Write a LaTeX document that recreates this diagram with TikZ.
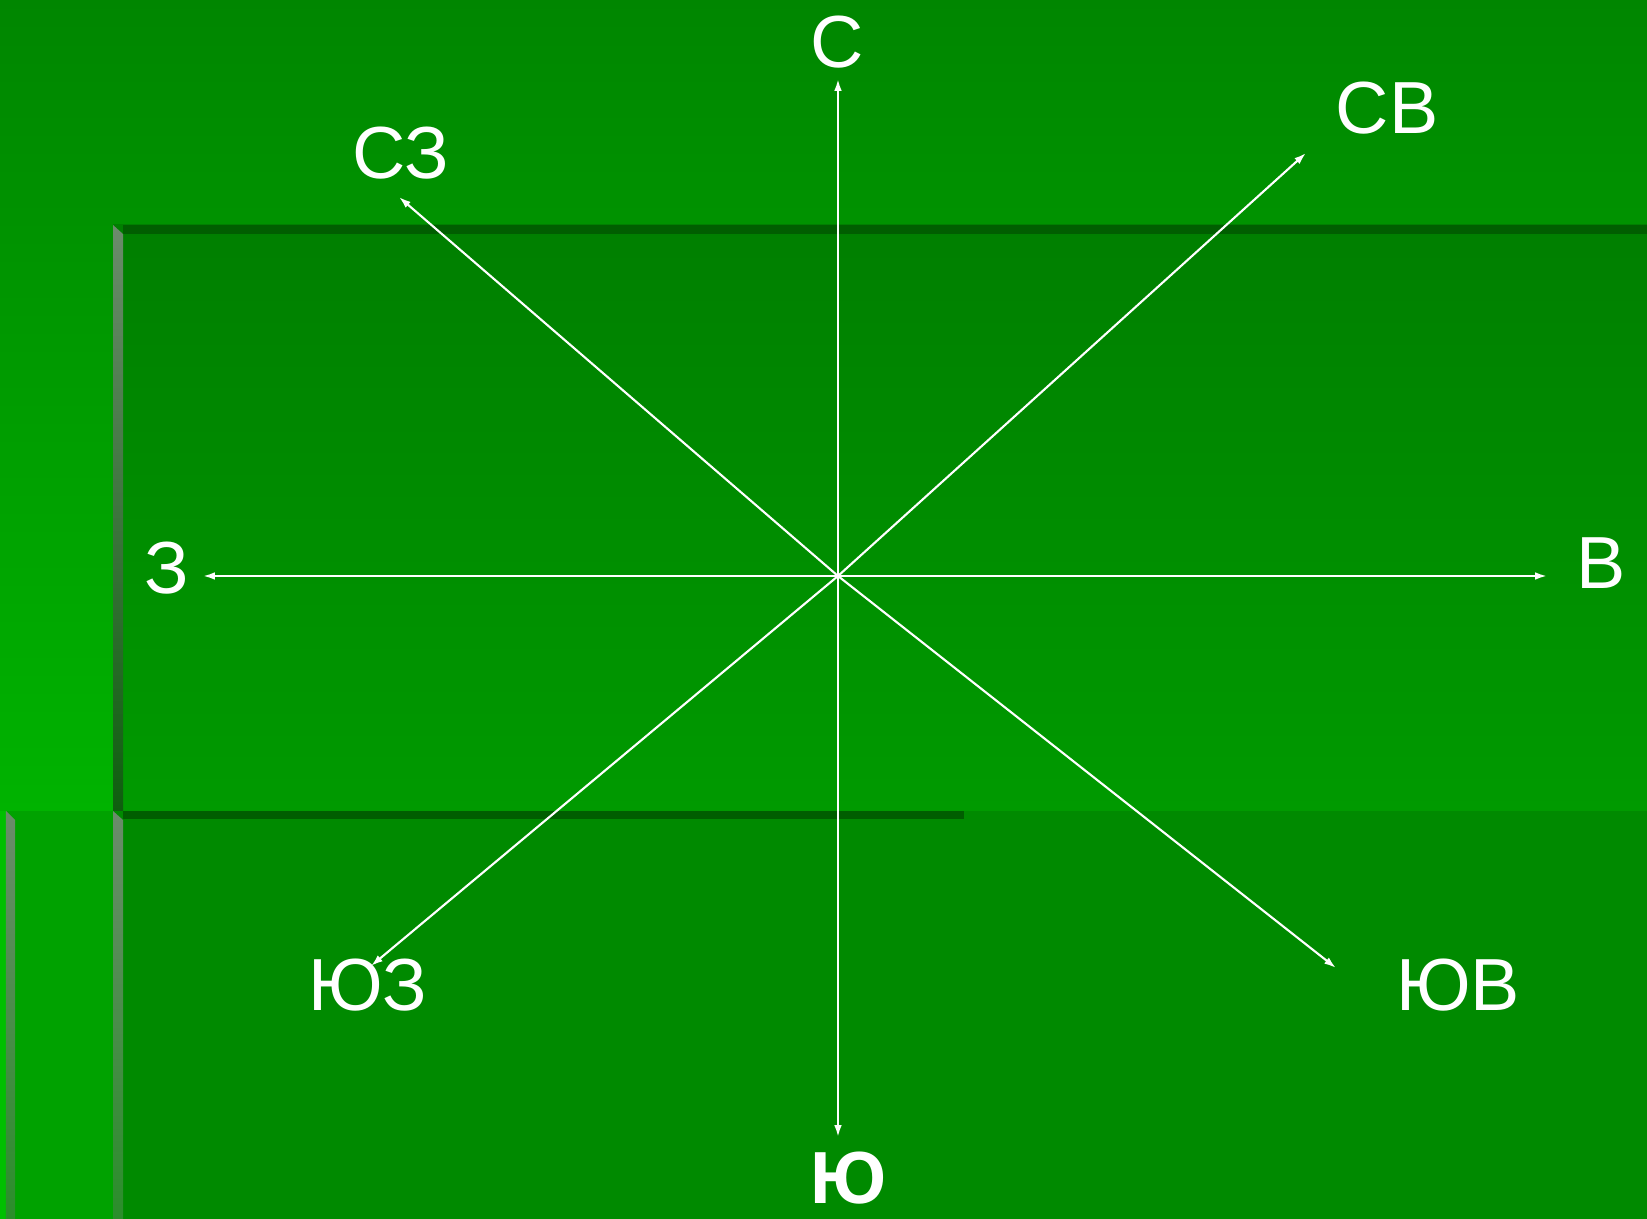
\documentclass[tikz,border=0pt]{standalone}
\usepackage{fontspec}
\setmainfont{Liberation Sans}
\usepackage{xcolor}
\usepackage{tikz}
\usetikzlibrary{arrows.meta,positioning}
\definecolor{bgtop}{HTML}{008600}
\definecolor{bgbottom}{HTML}{00B300}
\definecolor{paneltop}{HTML}{007F00}
\definecolor{panelbottom}{HTML}{009A00}
\definecolor{lowpanel}{HTML}{008A00}
\definecolor{lowleft}{HTML}{00A200}
\definecolor{leftedge}{HTML}{00C000}
\definecolor{edgedark}{HTML}{005E00}
\definecolor{bevelgray}{HTML}{6B8B6B}
\definecolor{beveldark}{HTML}{0E5E0E}
\definecolor{bevelgreen}{HTML}{2A8E2A}

\begin{document}
\begin{tikzpicture}[
  x=0.01cm, y=-0.01cm,
  dir/.style={text=white, inner sep=0pt, font=\fontsize{21}{24}\selectfont},
  arr/.style={-{Latex[length=3.4pt, width=2.2pt]}, line width=0.6pt, draw=white}
]
\useasboundingbox (0,0) rectangle (1647,1219);
% background panels
\shade[top color=bgtop, bottom color=bgbottom] (0,0) rectangle (1647,811);
\fill[lowleft] (0,811) rectangle (113,1219);
\fill[leftedge] (0,811) rectangle (6,1219);
\shade[top color=bevelgray, bottom color=bevelgreen] (6,811) -- (15,820) -- (15,1219) -- (6,1219) -- cycle;
\shade[top color=paneltop, bottom color=panelbottom] (113,225) rectangle (1647,811);
\fill[edgedark] (123,225) rectangle (1647,234);
\shade[top color=bevelgray, bottom color=beveldark] (113,225) -- (123,234) -- (123,811) -- (113,811) -- cycle;
\fill[lowpanel] (113,811) rectangle (1647,1219);
\fill[edgedark] (123,811) rectangle (964,819);
\shade[top color=bevelgray, bottom color=bevelgreen] (113,811) -- (123,820) -- (123,1219) -- (113,1219) -- cycle;

% compass
\coordinate (o) at (838,576);
\node[dir] (n) at (837,42) {С};
\node[dir] (ne) at (1387,108) {СВ};
\node[dir] (nw) at (401,153) {СЗ};
\node[dir] (w) at (167,568) {З};
\node[dir] (e) at (1601,563) {В};
\node[dir] (sw) at (368,985) {ЮЗ};
\node[dir] (se) at (1458,985) {ЮВ};
\node[dir, font=\fontsize{21}{24}\selectfont\bfseries] (s) at (849,1178) {Ю};
\coordinate (ntip) at (838,79);
\coordinate (netip) at (1306,153);
\coordinate (nwtip) at (399,197);
\coordinate (wtip) at (203,576);
\coordinate (etip) at (1547,576);
\coordinate (swtip) at (371,966);
\coordinate (setip) at (1336,968);
\coordinate (stip) at (838,1137);
\draw[arr] (o) -- (ntip);
\draw[arr] (o) -- (netip);
\draw[arr] (o) -- (nwtip);
\draw[arr] (o) -- (wtip);
\draw[arr] (o) -- (etip);
\draw[arr] (o) -- (swtip);
\draw[arr] (o) -- (setip);
\draw[arr] (o) -- (stip);
\end{tikzpicture}
\end{document}
